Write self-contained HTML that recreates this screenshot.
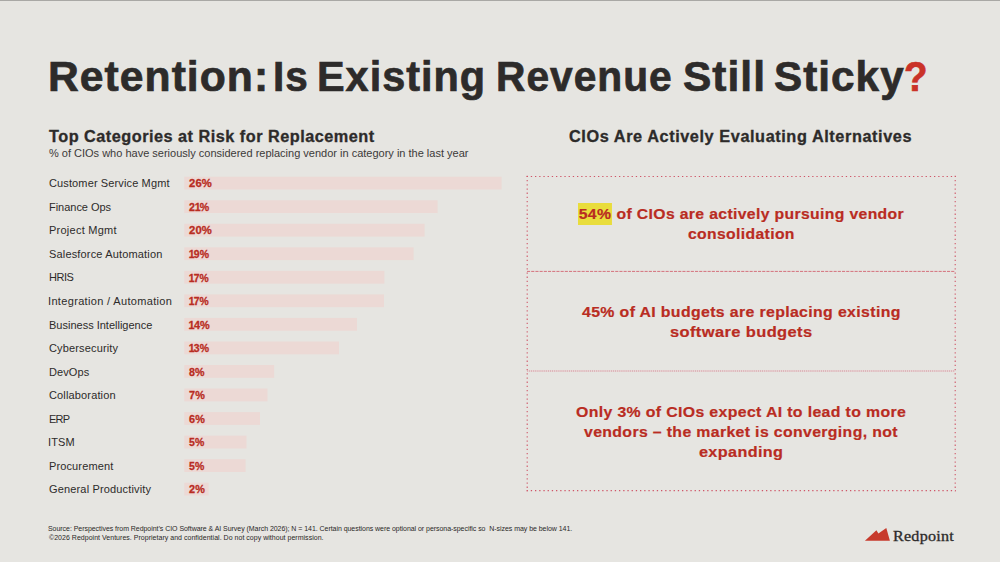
<!DOCTYPE html>
<html lang="en"><head><meta charset="utf-8"><title>Retention</title>
<style>
html,body{margin:0;padding:0}
body{width:1000px;height:562px;background:#e6e5e1;position:relative;overflow:hidden;font-family:"Liberation Sans",sans-serif}
.t{position:absolute;white-space:nowrap;line-height:1;margin:0;padding:0;transform-origin:0 50%}
</style></head><body>
<div style="position:absolute;left:0;top:0;width:1000px;height:1px;background:#a9a8a5"></div>
<svg style="position:absolute;left:0;top:0" width="1000" height="562" viewBox="0 0 1000 562" class="bars">
<rect x="184.3" y="176.70" width="317.3" height="12.8" fill="#ecd9d5"/>
<rect x="184.3" y="200.24" width="253.3" height="12.8" fill="#ecd9d5"/>
<rect x="184.3" y="223.78" width="240.3" height="12.8" fill="#ecd9d5"/>
<rect x="184.3" y="247.32" width="229.3" height="12.8" fill="#ecd9d5"/>
<rect x="184.3" y="270.86" width="200.1" height="12.8" fill="#ecd9d5"/>
<rect x="184.3" y="294.40" width="199.7" height="12.8" fill="#ecd9d5"/>
<rect x="184.3" y="317.94" width="172.7" height="12.8" fill="#ecd9d5"/>
<rect x="184.3" y="341.48" width="154.7" height="12.8" fill="#ecd9d5"/>
<rect x="184.3" y="365.02" width="89.9" height="12.8" fill="#ecd9d5"/>
<rect x="184.3" y="388.56" width="83.2" height="12.8" fill="#ecd9d5"/>
<rect x="184.3" y="412.10" width="75.7" height="12.8" fill="#ecd9d5"/>
<rect x="184.3" y="435.64" width="62.2" height="12.8" fill="#ecd9d5"/>
<rect x="184.3" y="459.18" width="61.3" height="12.8" fill="#ecd9d5"/>
<rect x="184.3" y="482.72" width="24.3" height="12.8" fill="#ecd9d5"/>
</svg>
<svg style="position:absolute;left:0;top:0" width="1000" height="562" viewBox="0 0 1000 562" fill="none">
<g stroke="#cf5668" stroke-width="1.1">
<path d="M526.6 176.5H955.8" stroke-dasharray="1.3 2.9"/>
<path d="M526.6 490.6H955.8" stroke-dasharray="1.3 2.9"/>
<path d="M527.2 175.8V491.3" stroke-dasharray="1.3 2.9"/>
<path d="M955.2 175.8V491.3" stroke-dasharray="1.3 2.9"/>
<path d="M527 271.4H955" stroke-dasharray="3.1 1.1" stroke="#d4707c" stroke-width="1"/>
<path d="M527 371.0H955" stroke="#ecc9cb" stroke-width="1"/>
<path d="M527 371.0H955" stroke-dasharray="0.8 1.3" stroke="#c07080" stroke-width="1" opacity="0.75"/>
</g></svg>
<div class="t" id="tw0" style="left:48px;top:56px;font-size:41.8px;font-weight:700;color:#2d2b2a;letter-spacing:1.000px;-webkit-text-stroke:0.7px currentColor;transform:scaleX(1.0207)">Retention:</div>
<div class="t" id="tw1" style="left:273px;top:56px;font-size:41.8px;font-weight:700;color:#2d2b2a;letter-spacing:1.000px;-webkit-text-stroke:0.7px currentColor;transform:scaleX(0.9690)">Is</div>
<div class="t" id="tw2" style="left:317px;top:56px;font-size:41.8px;font-weight:700;color:#2d2b2a;letter-spacing:1.000px;-webkit-text-stroke:0.7px currentColor;transform:scaleX(0.9908)">Existing</div>
<div class="t" id="tw3" style="left:496px;top:56px;font-size:41.8px;font-weight:700;color:#2d2b2a;letter-spacing:1.000px;-webkit-text-stroke:0.7px currentColor;transform:scaleX(0.9748)">Revenue</div>
<div class="t" id="tw4" style="left:683px;top:56px;font-size:41.8px;font-weight:700;color:#2d2b2a;letter-spacing:1.000px;-webkit-text-stroke:0.7px currentColor;transform:scaleX(1.0170)">Still</div>
<div class="t" id="tw5" style="left:774px;top:56px;font-size:41.8px;font-weight:700;color:#2d2b2a;letter-spacing:1.000px;-webkit-text-stroke:0.7px currentColor;transform:scaleX(1.0119)">Sticky</div>
<div class="t" id="twq" style="left:904px;top:56px;font-size:41.8px;font-weight:700;color:#ca3228;letter-spacing:0.000px;-webkit-text-stroke:0.7px currentColor;transform:scaleX(0.9206)">?</div>
<div class="t" id="lh" style="left:49px;top:129px;font-size:15.8px;font-weight:700;color:#2d2b2a;letter-spacing:0.472px;-webkit-text-stroke:0.3px currentColor;transform:scaleX(1.0300)">Top Categories at Risk for Replacement</div>
<div class="t" id="ls" style="left:49px;top:148px;font-size:11px;font-weight:400;color:#3c3a39;letter-spacing:0.000px">% of CIOs who have seriously considered replacing vendor in category in the last year</div>
<div class="t" id="rh" style="left:569px;top:129px;font-size:15.8px;font-weight:700;color:#2d2b2a;letter-spacing:0.564px;-webkit-text-stroke:0.3px currentColor;transform:scaleX(1.0300)">CIOs Are Actively Evaluating Alternatives</div>
<div class="t" id="l0" style="left:49px;top:178px;font-size:11px;font-weight:400;color:#2d2b2a;letter-spacing:0.125px">Customer Service Mgmt</div>
<div class="t" id="p0" style="left:189px;top:178px;font-size:11px;font-weight:700;color:#b92c22;letter-spacing:0.150px;-webkit-text-stroke:0.3px currentColor;transform:scaleX(1.0232)">26%</div>
<div class="t" id="l1" style="left:49px;top:202px;font-size:11px;font-weight:400;color:#2d2b2a;letter-spacing:-0.025px">Finance Ops</div>
<div class="t" id="p1" style="left:189px;top:202px;font-size:11px;font-weight:700;color:#b92c22;letter-spacing:0.150px;-webkit-text-stroke:0.3px currentColor;transform:scaleX(0.9635)">2<span style="letter-spacing:-0.8px;margin-left:-0.4px">1</span>%</div>
<div class="t" id="l2" style="left:49px;top:225px;font-size:11px;font-weight:400;color:#2d2b2a;letter-spacing:0.250px">Project Mgmt</div>
<div class="t" id="p2" style="left:189px;top:225px;font-size:11px;font-weight:700;color:#b92c22;letter-spacing:0.150px;-webkit-text-stroke:0.3px currentColor;transform:scaleX(1.0232)">20%</div>
<div class="t" id="l3" style="left:49px;top:249px;font-size:11px;font-weight:400;color:#2d2b2a;letter-spacing:0.163px">Salesforce Automation</div>
<div class="t" id="p3" style="left:189px;top:249px;font-size:11px;font-weight:700;color:#b92c22;letter-spacing:0.150px;-webkit-text-stroke:0.3px currentColor;transform:scaleX(0.9519)"><span style="letter-spacing:-0.8px;margin-left:-0.4px">1</span>9%</div>
<div class="t" id="l4" style="left:49px;top:272px;font-size:11px;font-weight:400;color:#2d2b2a;letter-spacing:-0.500px">HRIS</div>
<div class="t" id="p4" style="left:189px;top:273px;font-size:11px;font-weight:700;color:#b92c22;letter-spacing:0.150px;-webkit-text-stroke:0.3px currentColor;transform:scaleX(0.9398)"><span style="letter-spacing:-0.8px;margin-left:-0.4px">1</span>7%</div>
<div class="t" id="l5" style="left:48px;top:296px;font-size:11px;font-weight:400;color:#2d2b2a;letter-spacing:0.337px">Integration / Automation</div>
<div class="t" id="p5" style="left:189px;top:296px;font-size:11px;font-weight:700;color:#b92c22;letter-spacing:0.150px;-webkit-text-stroke:0.3px currentColor;transform:scaleX(0.9398)"><span style="letter-spacing:-0.8px;margin-left:-0.4px">1</span>7%</div>
<div class="t" id="l6" style="left:49px;top:320px;font-size:11px;font-weight:400;color:#2d2b2a;letter-spacing:0.000px">Business Intelligence</div>
<div class="t" id="p6" style="left:189px;top:320px;font-size:11px;font-weight:700;color:#b92c22;letter-spacing:0.150px;-webkit-text-stroke:0.3px currentColor;transform:scaleX(0.9880)"><span style="letter-spacing:-0.8px;margin-left:-0.4px">1</span>4%</div>
<div class="t" id="l7" style="left:49px;top:343px;font-size:11px;font-weight:400;color:#2d2b2a;letter-spacing:0.146px">Cybersecurity</div>
<div class="t" id="p7" style="left:189px;top:343px;font-size:11px;font-weight:700;color:#b92c22;letter-spacing:0.150px;-webkit-text-stroke:0.3px currentColor;transform:scaleX(0.9519)"><span style="letter-spacing:-0.8px;margin-left:-0.4px">1</span>3%</div>
<div class="t" id="l8" style="left:49px;top:367px;font-size:11px;font-weight:400;color:#2d2b2a;letter-spacing:0.100px">DevOps</div>
<div class="t" id="p8" style="left:189px;top:367px;font-size:11px;font-weight:700;color:#b92c22;letter-spacing:0.150px;-webkit-text-stroke:0.3px currentColor;transform:scaleX(0.9684)">8%</div>
<div class="t" id="l9" style="left:49px;top:390px;font-size:11px;font-weight:400;color:#2d2b2a;letter-spacing:0.146px">Collaboration</div>
<div class="t" id="p9" style="left:189px;top:390px;font-size:11px;font-weight:700;color:#b92c22;letter-spacing:0.150px;-webkit-text-stroke:0.3px currentColor;transform:scaleX(0.9842)">7%</div>
<div class="t" id="l10" style="left:49px;top:414px;font-size:11px;font-weight:400;color:#2d2b2a;letter-spacing:-0.750px">ERP</div>
<div class="t" id="p10" style="left:189px;top:414px;font-size:11px;font-weight:700;color:#b92c22;letter-spacing:0.150px;-webkit-text-stroke:0.3px currentColor;transform:scaleX(0.9842)">6%</div>
<div class="t" id="l11" style="left:48px;top:437px;font-size:11px;font-weight:400;color:#2d2b2a;letter-spacing:0.167px">ITSM</div>
<div class="t" id="p11" style="left:189px;top:437px;font-size:11px;font-weight:700;color:#b92c22;letter-spacing:0.150px;-webkit-text-stroke:0.3px currentColor;transform:scaleX(0.9527)">5%</div>
<div class="t" id="l12" style="left:49px;top:461px;font-size:11px;font-weight:400;color:#2d2b2a;letter-spacing:0.125px">Procurement</div>
<div class="t" id="p12" style="left:189px;top:461px;font-size:11px;font-weight:700;color:#b92c22;letter-spacing:0.150px;-webkit-text-stroke:0.3px currentColor;transform:scaleX(0.9527)">5%</div>
<div class="t" id="l13" style="left:49px;top:484px;font-size:11px;font-weight:400;color:#2d2b2a;letter-spacing:0.158px">General Productivity</div>
<div class="t" id="p13" style="left:189px;top:484px;font-size:11px;font-weight:700;color:#b92c22;letter-spacing:0.150px;-webkit-text-stroke:0.3px currentColor;transform:scaleX(0.9842)">2%</div>
<div class="t" id="a1" style="left:578px;top:206px;font-size:15.3px;font-weight:700;color:#b92c22;letter-spacing:0.350px;-webkit-text-stroke:0.2px currentColor;transform:scaleX(1.0286)"><span style="background:#e9dd3c;padding:1.9px 0.5px 3.2px 0.7px">54%</span> of CIOs are actively pursuing vendor</div>
<div class="t" id="a2" style="left:688px;top:226px;font-size:15.3px;font-weight:700;color:#b92c22;letter-spacing:0.350px;-webkit-text-stroke:0.2px currentColor;transform:scaleX(1.0273)">consolidation</div>
<div class="t" id="b1" style="left:582px;top:304px;font-size:15.3px;font-weight:700;color:#b92c22;letter-spacing:0.350px;-webkit-text-stroke:0.2px currentColor;transform:scaleX(1.0364)">45% of AI budgets are replacing existing</div>
<div class="t" id="b2" style="left:670px;top:324px;font-size:15.3px;font-weight:700;color:#b92c22;letter-spacing:0.350px;-webkit-text-stroke:0.2px currentColor;transform:scaleX(1.0774)">software budgets</div>
<div class="t" id="c1" style="left:576px;top:404px;font-size:15.3px;font-weight:700;color:#b92c22;letter-spacing:0.350px;-webkit-text-stroke:0.2px currentColor;transform:scaleX(1.0351)">Only 3% of CIOs expect AI to lead to more</div>
<div class="t" id="c2" style="left:584px;top:424px;font-size:15.3px;font-weight:700;color:#b92c22;letter-spacing:0.350px;-webkit-text-stroke:0.2px currentColor;transform:scaleX(1.0341)">vendors – the market is converging, not</div>
<div class="t" id="c3" style="left:699px;top:444px;font-size:15.3px;font-weight:700;color:#b92c22;letter-spacing:0.350px;-webkit-text-stroke:0.2px currentColor;transform:scaleX(1.0583)">expanding</div>
<div class="t" id="f1" style="left:48px;top:525px;font-size:7px;font-weight:400;color:#2a2827;letter-spacing:-0.047px">Source: Perspectives from Redpoint’s CIO Software &amp; AI Survey (March 2026); N = 141. Certain questions were optional or persona-specific so&nbsp; N-sizes may be below 141.</div>
<div class="t" id="f2" style="left:49px;top:534px;font-size:7px;font-weight:400;color:#2a2827;letter-spacing:0.024px">©2026 Redpoint Ventures. Proprietary and confidential. Do not copy without permission.</div>
<div class="t" id="logo" style="left:893px;top:529px;font-size:14.2px;font-weight:400;color:#2d2b2a;letter-spacing:0.200px;font-family:'Liberation Serif',serif;-webkit-text-stroke:0.3px currentColor;transform:scaleX(1.1364)">Redpoint</div>
<svg style="position:absolute;left:0;top:0" width="1000" height="562" viewBox="0 0 1000 562">
<path d="M864.9 540.8L876.4 530.3L878.4 533.5L886.3 527.9L889.9 540.8Z" fill="#c73a2c"/></svg>
</body></html>
